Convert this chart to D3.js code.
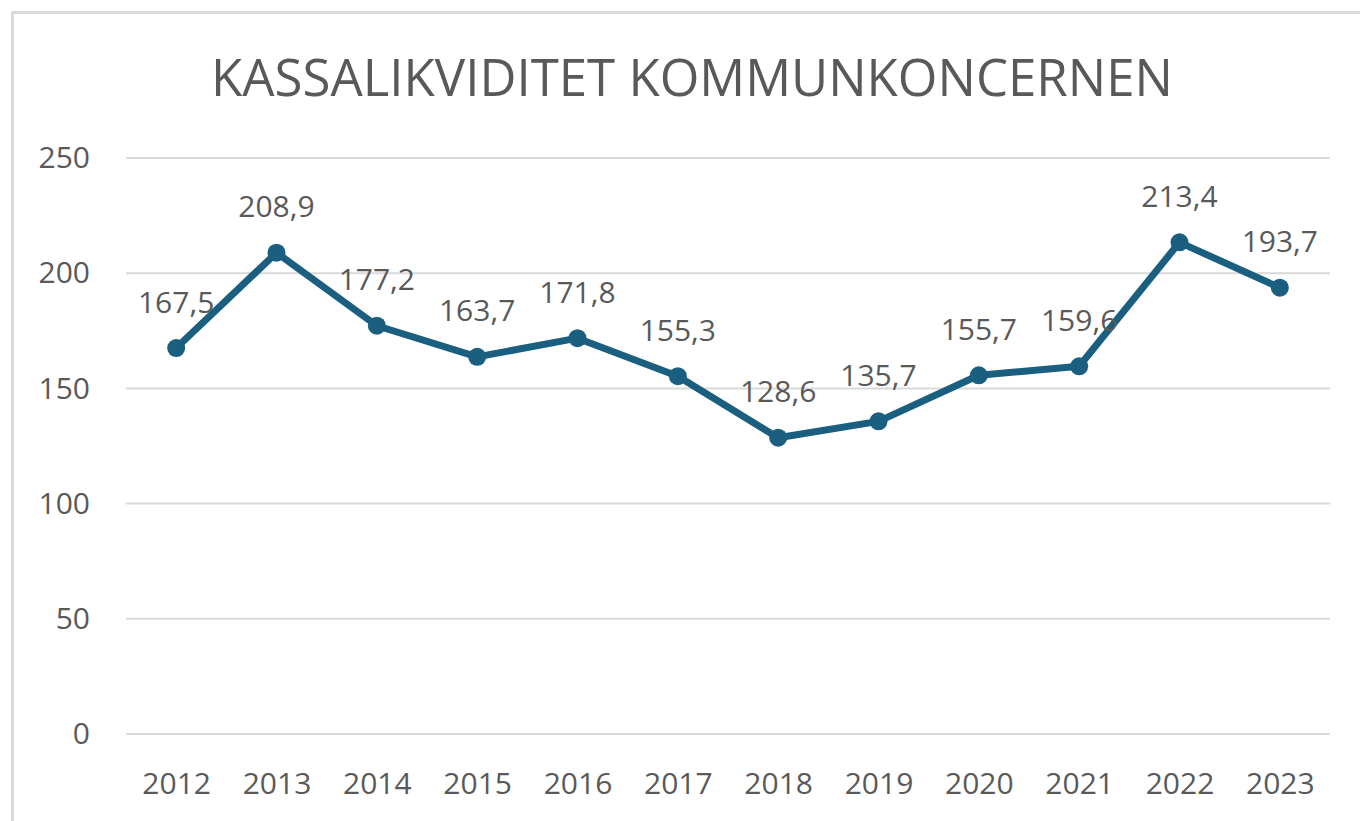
<!DOCTYPE html>
<html>
<head>
<meta charset="utf-8">
<script src="https://cdn.jsdelivr.net/npm/d3@7"></script>
<style>
  body { margin: 0; background: #fff; }
  svg { display: block; font-family: "Open Sans", sans-serif; }
</style>
</head>
<body>
<div id="chart"></div>
<script>
var years = ["2012","2013","2014","2015","2016","2017","2018","2019","2020","2021","2022","2023"];
var values = [167.5, 208.9, 177.2, 163.7, 171.8, 155.3, 128.6, 135.7, 155.7, 159.6, 213.4, 193.7];
var yTicks = [0, 50, 100, 150, 200, 250];
var title = "KASSALIKVIDITET KOMMUNKONCERNEN";

drawLineChart();
function drawLineChart(){
    var W = 1360, H = 821;
    var margin = {top: 158, right: 30, bottom: 87, left: 126},
    width = W - margin.left - margin.right,
    height = H - margin.top - margin.bottom;

    var svg = d3.select("#chart")
    .append("svg")
        .attr("width", W)
        .attr("height", H);

    // outer frame (cut off at right and bottom)
    svg.append("rect")
        .attr("x", 12.5).attr("y", 12.5)
        .attr("width", W).attr("height", H)
        .attr("fill", "none")
        .attr("stroke", "#d9d9d9")
        .attr("stroke-width", 3);

    svg.append("text")
        .attr("x", 692)
        .attr("y", 96)
        .attr("text-anchor", "middle")
        .attr("fill", "#595959")
        .attr("font-size", 51)
        .text(title);

    var g = svg.append("g")
        .attr("transform", "translate(" + margin.left + "," + margin.top + ")");

    var x = d3.scalePoint()
        .domain(years)
        .range([0, width])
        .padding(0.5);

    var y = d3.scaleLinear()
        .domain([0, 250])
        .range([height, 0]);

    // gridlines
    g.append("g")
        .selectAll("line")
        .data(yTicks)
        .enter()
        .append("line")
        .attr("x1", 0).attr("x2", width)
        .attr("y1", function(d){ return y(d); })
        .attr("y2", function(d){ return y(d); })
        .attr("stroke", "#d9d9d9")
        .attr("stroke-width", 2);

    // Y axis
    var yAxis = g.append("g")
        .call(d3.axisLeft(y).tickValues(yTicks).tickSize(0).tickPadding(36));
    yAxis.select(".domain").remove();
    yAxis.selectAll("text")
        .attr("fill", "#595959")
        .attr("font-size", 30)
        .attr("font-family", "Open Sans, sans-serif");

    // X axis
    var xAxis = g.append("g")
        .attr("transform", "translate(0," + height + ")")
        .call(d3.axisBottom(x).tickSize(0).tickPadding(39));
    xAxis.select(".domain").remove();
    xAxis.selectAll("text")
        .attr("fill", "#595959")
        .attr("font-size", 30)
        .attr("font-family", "Open Sans, sans-serif");

    var line = d3.line()
        .x(function(d, i){ return x(years[i]); })
        .y(function(d){ return y(d); });

    g.append("path")
        .datum(values)
        .attr("d", line)
        .attr("fill", "none")
        .attr("stroke", "#1a5e80")
        .attr("stroke-width", 7)
        .attr("stroke-linejoin", "round");

    g.append("g")
        .selectAll("circle")
        .data(values)
        .enter()
        .append("circle")
        .attr("cx", function(d, i){ return x(years[i]); })
        .attr("cy", function(d){ return y(d); })
        .attr("r", 9)
        .attr("fill", "#1a5e80");

    // data labels
    g.append("g")
        .selectAll("text")
        .data(values)
        .enter()
        .append("text")
        .attr("x", function(d, i){ return x(years[i]); })
        .attr("y", function(d){ return y(d) - 46; })
        .attr("dy", "0.35em")
        .attr("text-anchor", "middle")
        .attr("fill", "#595959")
        .attr("font-size", 30)
        .text(function(d){ return d.toFixed(1).replace(".", ","); });
}
</script>
</body>
</html>
